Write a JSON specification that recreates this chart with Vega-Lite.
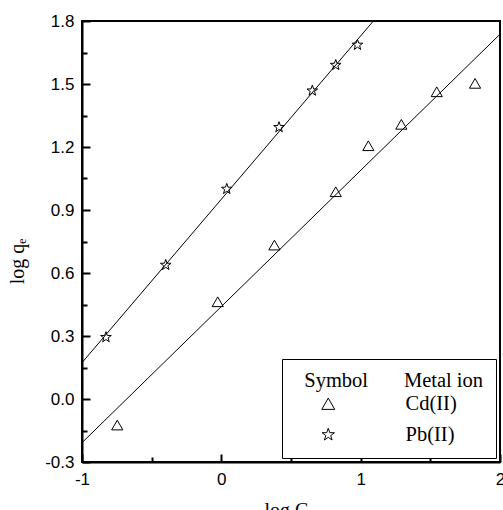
{
  "$schema": "https://vega.github.io/schema/vega-lite/v6.json",
  "width": 418,
  "height": 441,
  "autosize": {"type": "none"},
  "padding": {"left": 82, "top": 21, "right": 3, "bottom": 48},
  "background": "white",
  "config": {
    "view": {"stroke": "black", "strokeWidth": 2},
    "axis": {"grid": false, "domainColor": "black", "domainWidth": 2, "tickColor": "black", "tickWidth": 2, "labelColor": "black", "titleColor": "black"}
  },
  "datasets": {
    "fits": [
      {"metal": "Pb(II)", "logC": -1, "logq": 0.173},
      {"metal": "Pb(II)", "logC": 1.091, "logq": 1.8},
      {"metal": "Cd(II)", "logC": -1, "logq": -0.208},
      {"metal": "Cd(II)", "logC": 2, "logq": 1.737}
    ],
    "obs": [
      {"metal": "Cd(II)", "logC": -0.747, "logq": -0.124},
      {"metal": "Cd(II)", "logC": -0.026, "logq": 0.463},
      {"metal": "Cd(II)", "logC": 0.381, "logq": 0.733},
      {"metal": "Cd(II)", "logC": 0.821, "logq": 0.987},
      {"metal": "Cd(II)", "logC": 1.055, "logq": 1.206},
      {"metal": "Cd(II)", "logC": 1.292, "logq": 1.308},
      {"metal": "Cd(II)", "logC": 1.546, "logq": 1.463},
      {"metal": "Cd(II)", "logC": 1.821, "logq": 1.503},
      {"metal": "Pb(II)", "logC": -0.828, "logq": 0.294},
      {"metal": "Pb(II)", "logC": -0.399, "logq": 0.638},
      {"metal": "Pb(II)", "logC": 0.039, "logq": 1.0},
      {"metal": "Pb(II)", "logC": 0.414, "logq": 1.294},
      {"metal": "Pb(II)", "logC": 0.653, "logq": 1.468},
      {"metal": "Pb(II)", "logC": 0.821, "logq": 1.59},
      {"metal": "Pb(II)", "logC": 0.977, "logq": 1.686}
    ]
  },
  "layer": [
    {
      "data": {"name": "fits"},
      "mark": {"type": "line", "color": "black", "strokeWidth": 1, "clip": true},
      "encoding": {
        "x": {"field": "logC", "type": "quantitative", "scale": {"domain": [-1, 2], "nice": false, "zero": false},
          "axis": {"orient": "bottom", "values": [-0.5, 0.5, 1.5], "labels": false, "domain": false, "title": null, "tickSize": -5}},
        "y": {"field": "logq", "type": "quantitative", "scale": {"domain": [-0.3, 1.8], "nice": false, "zero": false},
          "axis": {"orient": "left", "values": [-0.15, 0.15, 0.45, 0.75, 1.05, 1.35, 1.65], "labels": false, "domain": false, "title": null, "tickSize": -5}},
        "detail": {"field": "metal"}
      }
    },
    {
      "data": {"name": "obs"},
      "mark": {"type": "point", "filled": false, "stroke": "black", "strokeWidth": 1, "size": 125, "opacity": 1},
      "encoding": {
        "x": {"field": "logC", "type": "quantitative",
          "axis": {"orient": "bottom", "values": [-1, 0, 1, 2], "tickSize": -8, "labelPadding": 17,
            "labelExpr": "datum.value < 0 ? '-' + format(-datum.value, 'd') : format(datum.value, 'd')",
            "labelFont": "Liberation Sans", "labelFontSize": 17, "labelFlush": false,
            "title": "log C", "titleFont": "Liberation Serif", "titleFontSize": 20, "titleFontWeight": "normal", "titlePadding": 13, "titleX": 204}},
        "y": {"field": "logq", "type": "quantitative",
          "axis": {"orient": "left", "values": [-0.3, 0, 0.3, 0.6, 0.9, 1.2, 1.5, 1.8], "tickSize": -8, "labelPadding": 16,
            "labelExpr": "datum.value < 0 ? '-' + format(-datum.value, '.1f') : format(datum.value, '.1f')",
            "labelFont": "Liberation Sans", "labelFontSize": 17, "labelFlush": false,
            "title": "log qₑ", "titleFont": "Liberation Serif", "titleFontSize": 20, "titleFontWeight": "normal", "titlePadding": 17, "titleY": 240}},
        "shape": {"field": "metal", "type": "nominal",
          "scale": {"domain": ["Cd(II)", "Pb(II)"], "range": ["triangle-up", "M0,-1L0.235,-0.324L0.951,-0.309L0.38,0.124L0.588,0.809L0,0.4L-0.588,0.809L-0.38,0.124L-0.951,-0.309L-0.235,-0.324Z"]},
          "legend": {
            "title": "\u200b\u00a0\u00a0Symbol\u00a0\u00a0\u00a0\u00a0\u00a0\u00a0\u00a0Metal ion",
            "orient": "bottom-right", "offset": 4,
            "strokeColor": "black", "fillColor": "white", "padding": 12,
            "titleFont": "Liberation Serif", "titleFontSize": 20.5, "titleFontWeight": "normal", "titleColor": "black", "titlePadding": 2, "titleLimit": 400,
            "labelFont": "Liberation Serif", "labelFontSize": 20.5, "labelColor": "black", "labelOffset": 67, "labelLimit": 300,
            "symbolSize": 169, "symbolStrokeColor": "black", "symbolFillColor": "transparent", "symbolStrokeWidth": 1, "symbolOffset": 24,
            "rowPadding": 10
          }}
      }
    }
  ],
  "resolve": {"axis": {"x": "independent", "y": "independent"}}
}
